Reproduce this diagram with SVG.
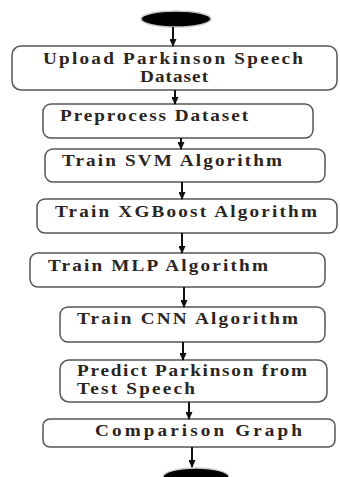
<svg xmlns="http://www.w3.org/2000/svg" width="340" height="477" viewBox="0 0 340 477">
<defs>
<marker id="ah" markerWidth="8" markerHeight="7" refX="7" refY="3.5" orient="auto" markerUnits="userSpaceOnUse">
<path d="M0,0 L8,3.5 L0,7 Z" fill="#111"/>
</marker>
<style>
.box{fill:#fff;stroke:#555;stroke-width:1.5}
.t{font-family:"Liberation Serif","Times New Roman",serif;font-size:16px;font-weight:bold;fill:#2a2520}
.c{stroke:#111;stroke-width:2;fill:none;marker-end:url(#ah)}
.term{fill:#000;stroke:#ccc;stroke-width:1.5}
</style>
</defs>
<rect width="340" height="477" fill="#fff"/>
<g id="start"><ellipse class="term" cx="176" cy="19" rx="35" ry="8"/></g>
<g id="n1"><rect class="box" x="12" y="46" width="325" height="44" rx="9"/>
<text class="t" transform="translate(43,64) scale(1.2,1)" textLength="216.7" lengthAdjust="spacing">Upload Parkinson Speech</text>
<text class="t" transform="translate(140,82) scale(1.2,1)" textLength="56.7" lengthAdjust="spacing">Dataset</text></g>
<g id="n2"><rect class="box" x="43" y="104" width="270" height="34" rx="8"/>
<text class="t" transform="translate(60,121) scale(1.2,1)" textLength="156.7" lengthAdjust="spacing">Preprocess Dataset</text></g>
<g id="n3"><rect class="box" x="45" y="149" width="280" height="33" rx="8"/>
<text class="t" transform="translate(62,166) scale(1.2,1)" textLength="183.3" lengthAdjust="spacing">Train SVM Algorithm</text></g>
<g id="n4"><rect class="box" x="37" y="199" width="300" height="34" rx="8"/>
<text class="t" transform="translate(55,217) scale(1.2,1)" textLength="218.3" lengthAdjust="spacing">Train XGBoost Algorithm</text></g>
<g id="n5"><rect class="box" x="30" y="253" width="295" height="34" rx="8"/>
<text class="t" transform="translate(48,271) scale(1.2,1)" textLength="183.3" lengthAdjust="spacing">Train MLP Algorithm</text></g>
<g id="n6"><rect class="box" x="60" y="307" width="265" height="35" rx="8"/>
<text class="t" transform="translate(77,324) scale(1.2,1)" textLength="184.2" lengthAdjust="spacing">Train CNN Algorithm</text></g>
<g id="n7"><rect class="box" x="60" y="360" width="267" height="42" rx="9"/>
<text class="t" transform="translate(77,376) scale(1.2,1)" textLength="191.7" lengthAdjust="spacing">Predict Parkinson from</text>
<text class="t" transform="translate(77,394) scale(1.2,1)" textLength="98.3" lengthAdjust="spacing">Test Speech</text></g>
<g id="n8"><rect class="box" x="43" y="419" width="292" height="28" rx="7"/>
<text class="t" transform="translate(95,436) scale(1.2,1)" textLength="172.5" lengthAdjust="spacing">Comparison Graph</text></g>
<g id="end"><ellipse class="term" cx="196" cy="477" rx="33" ry="9"/></g>
<g id="connectors">
<line class="c" x1="173" y1="27" x2="173" y2="46"/>
<line class="c" x1="175" y1="90" x2="175" y2="104"/>
<line class="c" x1="181" y1="138" x2="181" y2="149"/>
<line class="c" x1="182" y1="182" x2="182" y2="199"/>
<line class="c" x1="182" y1="233" x2="182" y2="253"/>
<line class="c" x1="184" y1="287" x2="184" y2="307"/>
<line class="c" x1="183" y1="342" x2="183" y2="360"/>
<line class="c" x1="189" y1="402" x2="189" y2="419"/>
<line class="c" x1="192" y1="447" x2="192" y2="467"/>
</g>
</svg>
